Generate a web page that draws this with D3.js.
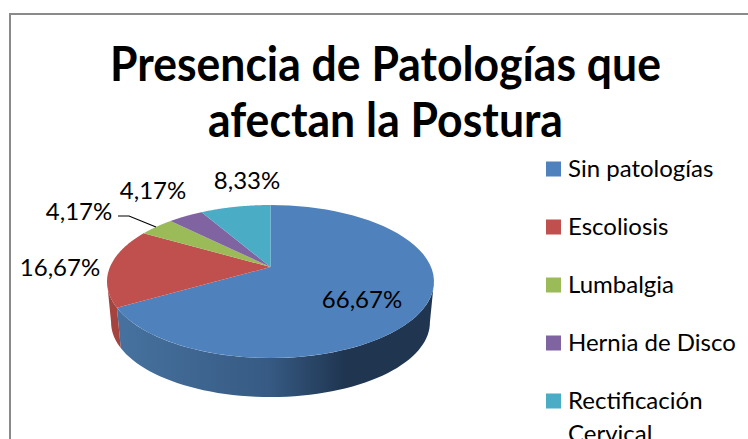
<!DOCTYPE html>
<html><head><meta charset="utf-8">
<script src="https://cdn.jsdelivr.net/npm/d3@7/dist/d3.min.js"></script>
<style>html,body{margin:0;background:#fff;overflow:hidden}svg{display:block}text{font-family:Lato,"Open Sans",sans-serif;fill:#000}</style>
</head><body><svg id="c" width="748" height="439"></svg>
<script>
const categories=["Sin patologías","Escoliosis","Lumbalgia","Hernia de Disco","Rectificación Cervical"];
const values=[66.67,16.67,4.17,4.17,8.33];
const valueLabels=["66,67%","16,67%","4,17%","4,17%","8,33%"];
const colors=["#4f81bd","#c0504d","#9bbb59","#8064a2","#4bacc6"];
const titleLines=["Presencia de Patologías que","afectan la Postura"];
const titleWidths=[551,355];
const labelPos=[[362,300],[60,268],[79,212],[153,191],[247,181]];

const svg=d3.select("#c");
svg.append("rect").attr("x",10).attr("y",14).attr("width",760).attr("height",440).attr("fill","#fff").attr("stroke","#8a8a8a").attr("stroke-width",2);

const defs=svg.append("defs");
const grad=defs.append("linearGradient").attr("id","g").attr("gradientUnits","userSpaceOnUse").attr("x1",117).attr("x2",434).attr("y1",0).attr("y2",0);
[[0,"#47729f"],[.48,"#365a83"],[.72,"#1f3550"],[1,"#1f3550"]].forEach(s=>grad.append("stop").attr("offset",s[0]).attr("stop-color",s[1]));

const cx=270.5,cy=267,a=160.5,b=73.75,k=0.19,bottomScale=0.975,depth=41.3;
const project=(t,s=1,dy=0)=>{const u=Math.sin(t),v=-Math.cos(t),w=1-k*v;return [cx+s*a*u/w,cy+s*b*v/w+dy];};
const pie=d3.pie().sort(null).startAngle(0).endAngle(2*Math.PI)(values);
const line=d3.line();
const arcPts=(s,e,sc=1,dy=0)=>d3.range(0,61).map(i=>project(s+(e-s)*i/60,sc,dy));

// extruded side between the two silhouette angles of the projected rim
const rimRight=Math.acos(-k),rimLeft=2*Math.PI-rimRight;
const sides=[
  {s:rimRight,e:pie[0].endAngle,fill:"url(#g)"},
  {s:pie[1].startAngle,e:rimLeft,fill:"#a5433f"}
];
sides.forEach(d=>{
  const top=arcPts(d.s,d.e),bot=arcPts(d.e,d.s,bottomScale,depth);
  svg.append("path").attr("d",line(top.concat(bot))+"Z").attr("fill",d.fill);
});

pie.forEach((d,i)=>{
  svg.append("path").attr("d",line([[cx,cy]].concat(arcPts(d.startAngle,d.endAngle)))+"Z").attr("fill",colors[i]);
});

const leader=d3.line()([[118,216],[129,216],[156,227]]);
svg.append("path").attr("d",leader).attr("fill","none").attr("stroke","#000").attr("stroke-width",1.2);

valueLabels.forEach((t,i)=>svg.append("text").attr("x",labelPos[i][0]).attr("y",labelPos[i][1]+8).attr("text-anchor","middle").attr("font-size",24).text(t));

titleLines.forEach((t,i)=>svg.append("text").attr("text-anchor","middle").attr("font-weight",700).attr("font-size",47)
  .attr("x",385.5).attr("y",80.5+i*56.5).attr("textLength",titleWidths[i]).attr("lengthAdjust","spacingAndGlyphs").text(t));

const legendY=d3.scalePoint().domain(categories).range([169,401]);
categories.forEach((c,i)=>{
  const y=legendY(c);
  svg.append("rect").attr("x",546).attr("y",y-7.5).attr("width",15).attr("height",15).attr("fill",colors[i]);
  const words=i===4?c.split(" "):[c];
  const tx=svg.append("text").attr("font-size",24);
  words.forEach((w,j)=>tx.append("tspan").attr("x",568).attr("y",y+8+j*33).text(w));
});
</script></body></html>
